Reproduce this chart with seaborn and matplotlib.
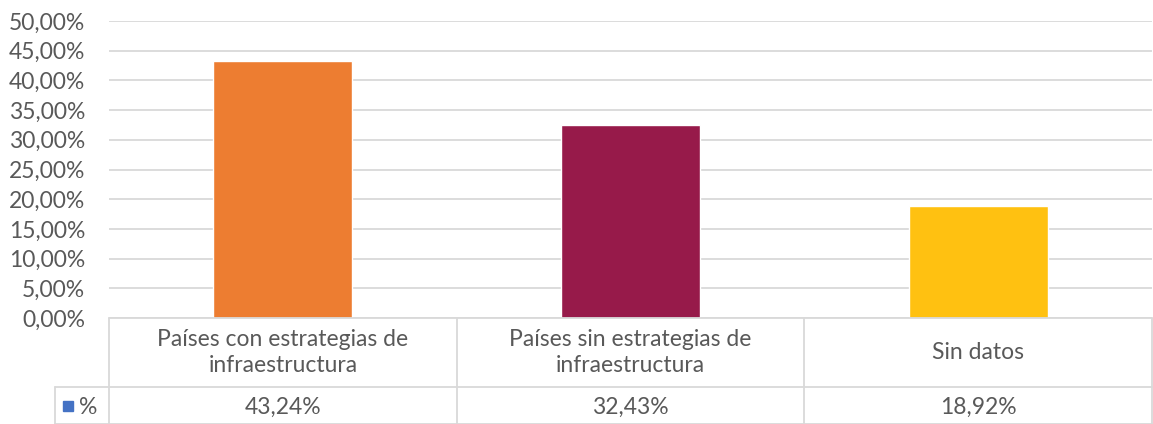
import matplotlib
matplotlib.use("Agg")
import matplotlib.pyplot as plt
import matplotlib.transforms as mtransforms
from matplotlib.patches import Rectangle
import seaborn as sns
import pandas as pd

categories = ["Países con estrategias de\ninfraestructura",
              "Países sin estrategias de\ninfraestructura",
              "Sin datos"]
values = [43.24, 32.43, 18.92]
value_labels = ["43,24%", "32,43%", "18,92%"]
bar_colors = ["#ED7D31", "#971A4A", "#FFC111"]
series_name = "%"
yticks = [0, 5, 10, 15, 20, 25, 30, 35, 40, 45, 50]

sns.set_style("white")
plt.rcParams['font.family'] = ['Lato', 'DejaVu Sans']

text_color = "#595959"
line_color = "#D9D9D9"
fs = 16.5

fig = plt.figure(figsize=(11.53, 4.24), dpi=100)
ax = fig.add_axes([109/1153, (424-318)/424, (1152-109)/1153, (318-21)/424])

df = pd.DataFrame({"cat": categories, "val": values})
sns.barplot(data=df, x="cat", y="val", hue="cat", palette=bar_colors,
            width=0.4, ax=ax, legend=False, saturation=1)

ax.set_ylim(0, 50)
ax.set_xlim(-0.5, 2.5)
ax.set_yticks(yticks)
ax.set_yticklabels([f"{t:.2f}".replace(".", ",") + "%" for t in yticks],
                   color=text_color, fontsize=fs)
ax.tick_params(axis="y", length=0, pad=17)
ax.set_xticks([])
ax.set_xlabel("")
ax.set_ylabel("")
ax.grid(axis="y", color=line_color, linewidth=1.3)
ax.set_axisbelow(True)
for s in ax.spines.values():
    s.set_visible(False)

# data table below the axes
tr = mtransforms.blended_transform_factory(ax.transData, ax.transAxes)
px = 1 / (318 - 21)
y_mid = -(387 - 318) * px
y_bot = -(424 - 318) * px
x_left = -0.5 - 54 / ((1152 - 109) / 3)
lw = 1.3
ax.plot([-0.5, 2.5], [0, 0], transform=tr, color=line_color, lw=lw, clip_on=False)
ax.plot([x_left, 2.5], [y_mid, y_mid], transform=tr, color=line_color, lw=lw, clip_on=False)
ax.plot([x_left, 2.5], [y_bot, y_bot], transform=tr, color=line_color, lw=lw, clip_on=False)
for xv in [-0.5, 0.5, 1.5, 2.5]:
    ax.plot([xv, xv], [0, y_bot], transform=tr, color=line_color, lw=lw, clip_on=False)
ax.plot([x_left, x_left], [y_mid, y_bot], transform=tr, color=line_color, lw=lw, clip_on=False)

for i, (c, v) in enumerate(zip(categories, value_labels)):
    ax.text(i, (0 + y_mid) / 2, c, transform=tr, ha="center", va="center",
            color=text_color, fontsize=fs, linespacing=1.3)
    ax.text(i, (y_mid + y_bot) / 2 - 2 * px, v, transform=tr, ha="center", va="center",
            color=text_color, fontsize=fs)

# legend key in the table
key_tr = mtransforms.blended_transform_factory(fig.transFigure, ax.transAxes)
ax.add_patch(Rectangle((63/1153, -(411 - 318) * px), 10/1153, 10 * px,
                       transform=key_tr, color="#4472C4", clip_on=False))
ax.text(79/1153, (y_mid + y_bot) / 2 - 2 * px, series_name, transform=key_tr,
        ha="left", va="center", color=text_color, fontsize=fs)

fig.savefig("out.png", dpi=100)
